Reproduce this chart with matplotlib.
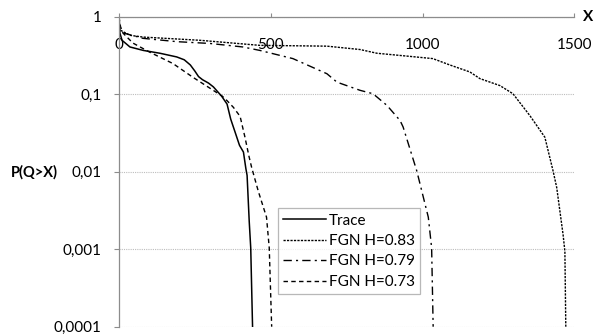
import numpy as np
import matplotlib
matplotlib.use("Agg")
import matplotlib.pyplot as plt
from matplotlib.transforms import blended_transform_factory

plt.rcParams['font.family'] = ['Lato', 'DejaVu Sans']

# queue tail distributions P(Q>X)
trace_x = [0, 3, 10, 36, 80, 135, 190, 215, 235, 250, 262, 275, 295, 311, 338, 356, 368, 382, 397, 410, 418, 422, 429, 434, 440]
trace_y = [1, 0.62, 0.50, 0.41, 0.37, 0.34, 0.305, 0.28, 0.24, 0.20, 0.17, 0.155, 0.14, 0.125, 0.095, 0.075,
           0.048, 0.033, 0.022, 0.018, 0.011, 0.009, 0.0023, 0.00104, 0.0001]

h83_x = [0, 3, 36, 80, 267, 464, 685, 794, 850, 958, 1034, 1090, 1156, 1189, 1255, 1298, 1354, 1403, 1430, 1442, 1463, 1469, 1472]
h83_y = [1, 0.68, 0.58, 0.55, 0.50, 0.43, 0.42, 0.38, 0.34, 0.31, 0.29, 0.24, 0.195, 0.16, 0.13, 0.102,
         0.053, 0.028, 0.0103, 0.0063, 0.00155, 0.00094, 0.0001]

h79_x = [0, 3, 79, 191, 300, 408, 464, 573, 685, 718, 794, 837, 883, 926, 936, 981, 1019, 1030, 1035]
h79_y = [1, 0.64, 0.53, 0.48, 0.455, 0.41, 0.37, 0.29, 0.185, 0.144, 0.113, 0.102, 0.072, 0.046, 0.038,
         0.0103, 0.0026, 0.00104, 0.0001]

h73_x = [0, 5, 13, 46, 102, 178, 244, 300, 340, 356, 377, 399, 415, 428, 437, 459, 486, 495, 503]
h73_y = [1, 0.75, 0.62, 0.46, 0.35, 0.25, 0.166, 0.12, 0.095, 0.083, 0.068, 0.052, 0.028, 0.016, 0.0114,
         0.0056, 0.0026, 0.00104, 0.0001]

x_ticks = [0, 500, 1000, 1500]
y_ticks = [1, 0.1, 0.01, 0.001, 0.0001]
y_labels = ['1', '0,1', '0,01', '0,001', '0,0001']

fig = plt.figure(figsize=(5.95, 3.35), dpi=100)
ax = fig.add_axes([0.2, 0.0248, 0.7652, 0.9245])

ax.plot(trace_x, trace_y, color='black', lw=1.1, label='Trace')
ax.plot(h83_x, h83_y, color='black', lw=1.0, dashes=(1.6, 0.9), label='FGN H=0.83')
ax.plot(h79_x, h79_y, color='black', lw=1.0, dashes=(6, 3, 1.5, 3), label='FGN H=0.79')
ax.plot(h73_x, h73_y, color='black', lw=1.0, dashes=(3.2, 2.4), label='FGN H=0.73')

ax.set_yscale('log')
ax.set_ylim(0.0001, 1)
ax.set_xlim(0, 1500)
ax.set_yticks(y_ticks)
ax.set_yticklabels(y_labels)
ax.minorticks_off()
ax.set_xticks(x_ticks)
ax.set_xticklabels([str(v) for v in x_ticks])

ax.grid(axis='y', color='#bdbdbd', linestyle=(0, (1, 1)), lw=0.8)
ax.set_axisbelow(True)

for side in ['bottom', 'right']:
    ax.spines[side].set_visible(False)
for side in ['top', 'left']:
    ax.spines[side].set_color('#8c8c8c')
    ax.spines[side].set_linewidth(0.9)

ax.xaxis.set_ticks_position('top')
ax.tick_params(axis='x', top=True, bottom=False, labeltop=True, labelbottom=False,
               direction='out', length=3, color='#8c8c8c', pad=-28, labelsize=11)
ax.tick_params(axis='y', direction='out', length=3.5, color='#8c8c8c', pad=9, labelsize=11)

tr = blended_transform_factory(ax.transAxes, ax.transData)
ax.text(-0.185, 0.01, 'P(Q>X)', transform=tr, ha='center', va='center',
        fontsize=10.5, fontweight='bold')
ax.text(1.031, 1.0, 'X', transform=ax.transAxes, ha='center', va='center',
        fontsize=11, fontweight='bold')

leg = ax.legend(loc='upper left', bbox_to_anchor=(0.3486, 0.3823), borderaxespad=0,
                fontsize=11, handlelength=2.8, handletextpad=0.2, labelspacing=0.42,
                frameon=True, fancybox=False, edgecolor='#a6a6a6', borderpad=0.35)
leg.get_frame().set_linewidth(0.9)

fig.savefig('out.png', dpi=100)
